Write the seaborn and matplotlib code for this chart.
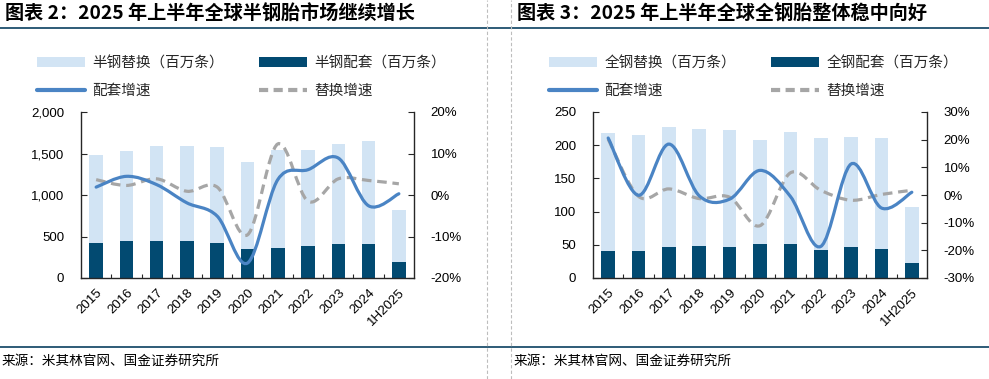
import numpy as np
import pandas as pd
import matplotlib
matplotlib.use("Agg")
import matplotlib.pyplot as plt
import seaborn as sns
from matplotlib.path import Path
from matplotlib.patches import PathPatch, Patch
from matplotlib.lines import Line2D

# ---------------- data ----------------
years = ["2015", "2016", "2017", "2018", "2019", "2020", "2021", "2022", "2023", "2024", "1H2025"]

# Panel 1: semi-steel tyres (million units)
semi_oe = [422, 442, 450, 442, 418, 349, 361, 386, 414, 406, 197]
semi_repl = [1064, 1092, 1136, 1144, 1156, 1049, 1177, 1152, 1204, 1241, 626]
semi_oe_growth = [1.9, 4.5, 2.5, -1.9, -5.1, -16.4, 3.7, 6.1, 8.9, -2.6, 0.3]
semi_repl_growth = [3.7, 2.3, 3.9, 0.9, 1.9, -9.6, 12.3, -1.5, 3.9, 3.5, 2.7]

# Panel 2: all-steel tyres (million units)
all_oe = [40, 40, 47, 48, 47, 51, 51, 42, 46, 44, 23]
all_repl = [178, 176, 181, 177, 176, 157, 169, 169, 167, 167, 84]
all_oe_growth = [20.6, -0.1, 18.4, -0.3, -1.5, 8.9, -0.5, -18.6, 11.2, -4.7, 1.0]
all_repl_growth = [20.2, -0.5, 2.2, -1.3, -0.8, -11.1, 8.0, 1.7, -1.9, 0.2, 1.7]

titles = ["图表 2：2025 年上半年全球半钢胎市场继续增长", "图表 3：2025 年上半年全球全钢胎整体稳中向好"]
leg_labels = [["半钢替换（百万条）", "半钢配套（百万条）", "配套增速", "替换增速"],
              ["全钢替换（百万条）", "全钢配套（百万条）", "配套增速", "替换增速"]]
source = "来源：米其林官网、国金证券研究所"

left_ticks = [[0, 500, 1000, 1500, 2000], [0, 50, 100, 150, 200, 250]]
right_ticks = [[-20, -10, 0, 10, 20], [-30, -20, -10, 0, 10, 20, 30]]

# ---------------- style ----------------
sns.set_theme(style="white")
plt.rcParams["font.family"] = ["Liberation Sans", "Noto Sans CJK SC", "DejaVu Sans"]
CJK = ["Noto Sans CJK SC", "DejaVu Sans"]

LIGHT = "#D2E4F4"
DARK = "#024A71"
BLUE = "#4A84C4"
GREY = "#A6A6A6"
RULE = "#1C4E6C"
SPINE = "#262626"

fig = plt.figure(figsize=(9.89, 3.79), dpi=100)
W, H = 989, 379


def fx(px):
    return px / W


def fy(py):
    return 1 - py / H


def smooth_path(xs, ys):
    pts = np.column_stack([xs, ys]).astype(float)
    n = len(pts)
    verts = [pts[0]]
    codes = [Path.MOVETO]
    for i in range(n - 1):
        p0 = pts[i - 1] if i > 0 else pts[i]
        p1 = pts[i]
        p2 = pts[i + 1]
        p3 = pts[i + 2] if i + 2 < n else pts[i + 1]
        c1 = p1 + (p2 - p0) / 6.0
        c2 = p2 - (p3 - p1) / 6.0
        verts += [c1, c2, p2]
        codes += [Path.CURVE4] * 3
    return Path(verts, codes)


def panel(axrect, oe, repl, oe_g, repl_g, lticks, rticks, lfmt):
    ax = fig.add_axes(axrect)
    df = pd.DataFrame({"year": years, "oe": oe, "repl": repl})
    df["total"] = df["oe"] + df["repl"]
    sns.barplot(data=df, x="year", y="total", color=LIGHT, saturation=1,
                width=0.45, errorbar=None, ax=ax, linewidth=0)
    sns.barplot(data=df, x="year", y="oe", color=DARK, saturation=1,
                width=0.45, errorbar=None, ax=ax, linewidth=0)
    ax.set_xlim(-0.5, len(years) - 0.5)
    ax.set_ylim(lticks[0], lticks[-1])
    ax.set_yticks(lticks)
    ax.set_yticklabels([lfmt(v) for v in lticks])
    ax.set_xlabel("")
    ax.set_ylabel("")
    ax.set_xticks(range(len(years)))
    ax.set_xticklabels(years, rotation=45, ha="right", rotation_mode="anchor")
    ax.set_xticks(np.arange(0.5, len(years) - 0.5, 1), minor=True)
    ax.tick_params(axis="x", which="major", length=0, pad=6, labelsize=9.5, colors="black")
    ax.tick_params(axis="x", which="minor", length=3, direction="in", width=0.8, color=SPINE, bottom=True)
    ax.tick_params(axis="y", length=4, direction="in", width=0.8, color=SPINE, labelsize=9.5,
                   labelcolor="black", left=True, pad=12)
    for s in ["left", "bottom", "right"]:
        ax.spines[s].set_visible(True)
        ax.spines[s].set_color(SPINE)
        ax.spines[s].set_linewidth(1.0)
    ax.spines["top"].set_visible(False)
    ax.grid(False)

    ax2 = ax.twinx()
    ax2.set_ylim(rticks[0], rticks[-1])
    ax2.set_yticks(rticks)
    ax2.set_yticklabels([f"{v}%" for v in rticks])
    ax2.tick_params(axis="y", length=4, direction="in", width=0.8, color=SPINE, labelsize=9.5,
                    labelcolor="black", right=True, pad=12)
    for s in ["left", "bottom", "right", "top"]:
        ax2.spines[s].set_visible(False)
    ax2.grid(False)
    xs = np.arange(len(years))
    ax2.add_patch(PathPatch(smooth_path(xs, repl_g), fill=False, edgecolor=GREY,
                            linewidth=2.3, linestyle=(0, (3.0, 1.8)), transform=ax2.transData))
    ax2.add_patch(PathPatch(smooth_path(xs, oe_g), fill=False, edgecolor=BLUE,
                            linewidth=2.3, capstyle="round", transform=ax2.transData))
    return ax, ax2


axes_specs = [
    (81, 414, semi_oe, semi_repl, semi_oe_growth, semi_repl_growth, 0),
    (593, 927, all_oe, all_repl, all_oe_growth, all_repl_growth, 1),
]

for x0, x1, oe, repl, og, rg, k in axes_specs:
    rect = [fx(x0), fy(278), fx(x1) - fx(x0), (278 - 112) / H]
    fmt = (lambda v: f"{v:,}")
    ax, ax2 = panel(rect, oe, repl, og, rg, left_ticks[k], right_ticks[k], fmt)

    handles = [Patch(facecolor=LIGHT, edgecolor="none"),
               Line2D([], [], color=BLUE, lw=3),
               Patch(facecolor=DARK, edgecolor="none"),
               Line2D([], [], color=GREY, lw=3, linestyle=(0, (2.2, 1.3)))]
    labels = [leg_labels[k][0], leg_labels[k][2], leg_labels[k][1], leg_labels[k][3]]
    lx = [37, 549][k]
    fig.legend(handles, labels, ncol=2, loc="upper left",
               bbox_to_anchor=(fx(lx), fy(56)), frameon=False, borderpad=0,
               borderaxespad=0, handlelength=3.3, handleheight=0.6, handletextpad=0.5,
               columnspacing=2.4, labelspacing=0.95,
               prop={"family": CJK, "size": 10.5})

    tx = [5, 517][k]
    fig.text(fx(tx), fy(14), titles[k], fontsize=13.8, fontweight="bold", fontstyle="italic",
             family=CJK, va="center", ha="left", color="black")
    sx = [2, 514][k]
    fig.text(fx(sx), fy(361), source, fontsize=9.8, family=CJK, va="center", ha="left", color="black")

# rules and separators
fig.add_artist(Line2D([0, 1], [fy(28), fy(28)], transform=fig.transFigure, color=RULE, lw=1.3))
fig.add_artist(Line2D([0, 1], [fy(347), fy(347)], transform=fig.transFigure, color=RULE, lw=1.3))
for xsep in [487, 511]:
    fig.add_artist(Line2D([fx(xsep), fx(xsep)], [0, 1], transform=fig.transFigure,
                          color="#BDBDBD", lw=0.8, linestyle=(0, (3, 2))))

fig.savefig("out.png", dpi=100, facecolor="white")
